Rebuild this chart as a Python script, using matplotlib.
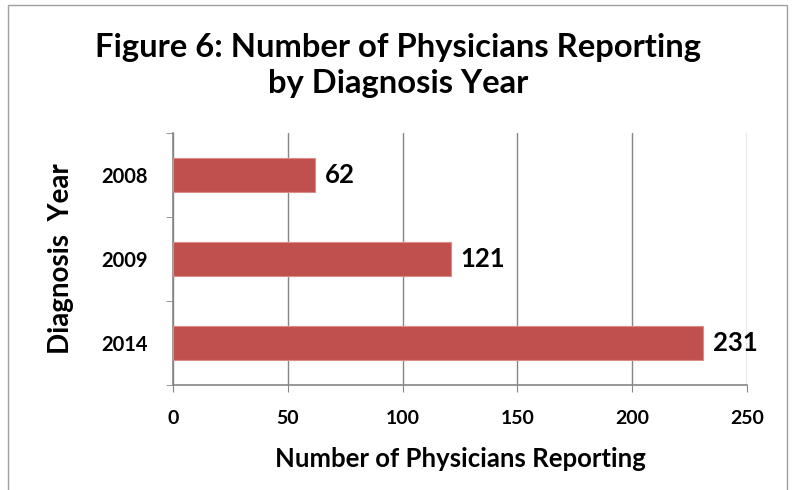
import matplotlib.pyplot as plt
from matplotlib.patches import Rectangle

plt.rcParams['font.family'] = ['Lato', 'DejaVu Sans']

years = ["2008", "2009", "2014"]
physicians = [62, 121, 231]
x_ticks = [0, 50, 100, 150, 200, 250]

fig = plt.figure(figsize=(7.93, 4.90), dpi=100)
ax = fig.add_axes([0.218, 0.214, 0.724, 0.515])

pos = list(range(len(years)))[::-1]
ax.barh(pos, physicians, height=0.4, color="#C0504D", edgecolor="#D98C8A",
        linewidth=0.8, zorder=3)
for p, v in zip(pos, physicians):
    ax.text(v + 4, p, str(v), va="center", ha="left", fontsize=18.5,
            fontweight="bold", zorder=4)

ax.set_xlim(0, 250)
ax.set_ylim(-0.5, 2.5)
ax.set_xticks(x_ticks)
ax.set_xticklabels([str(t) for t in x_ticks], fontsize=14, fontweight="bold")
ax.set_yticks(pos)
ax.set_yticklabels(years, fontsize=14.5, fontweight="bold")
ax.tick_params(axis="y", length=0, pad=18)
ax.tick_params(axis="x", length=5, color="#868686", pad=13)
# category boundary ticks on the y axis
ax.set_yticks([-0.5, 0.5, 1.5, 2.5], minor=True)
ax.tick_params(axis="y", which="minor", length=5, color="#868686")

ax.grid(axis="x", color="#868686", linewidth=1, zorder=0)
for s in ["top", "right"]:
    ax.spines[s].set_visible(False)
for s in ["left", "bottom"]:
    ax.spines[s].set_color("#868686")
    ax.spines[s].set_linewidth(1.2)

ax.set_xlabel("Number of Physicians Reporting", fontsize=18.5,
              fontweight="bold", labelpad=14)
ax.set_ylabel("Diagnosis  Year", fontsize=20, fontweight="bold", labelpad=20)

fig.text(0.502, 0.867, "Figure 6: Number of Physicians Reporting\nby Diagnosis Year",
         ha="center", va="center", fontsize=23.6, fontweight="bold",
         linespacing=1.28)

fig.patches.append(Rectangle((0.01, -0.01), 0.982, 1.0, transform=fig.transFigure,
                             fill=False, edgecolor="#A0A0A0", linewidth=1))

fig.savefig("out.png", dpi=100)
